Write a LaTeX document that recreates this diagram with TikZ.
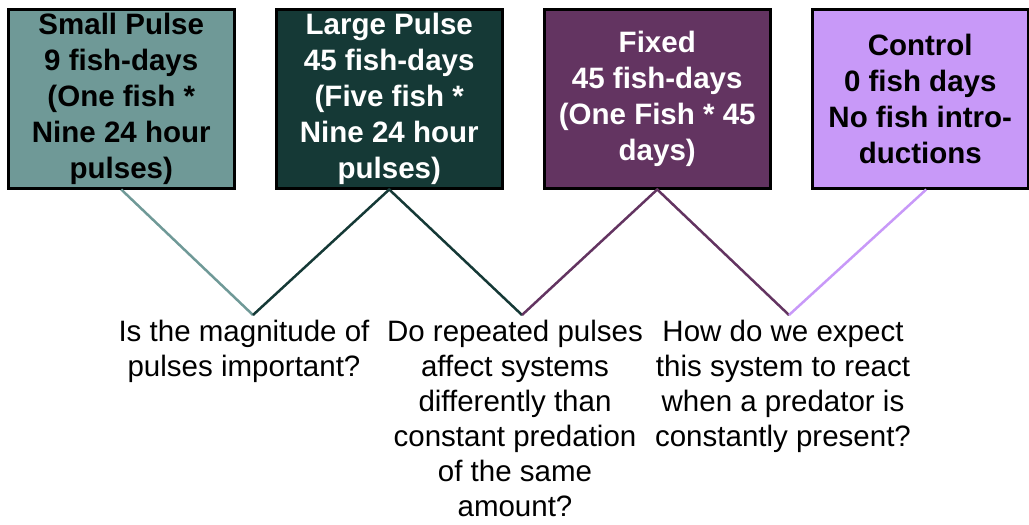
\documentclass[tikz,border=0pt]{standalone}
\usepackage{fontspec}
\setmainfont{Liberation Sans}
\usetikzlibrary{positioning}

\definecolor{smallcol}{HTML}{6F9997}
\definecolor{largecol}{HTML}{153936}
\definecolor{fixedcol}{HTML}{633461}
\definecolor{controlcol}{HTML}{C899F8}

\begin{document}
\begin{tikzpicture}[
    x=1pt, y=-1pt,
    treat/.style={
        draw=black,
        line width=2.5pt,
        align=center,
        minimum width=226pt,
        minimum height=179pt,
        inner sep=0pt,
        font=\bfseries\fontsize{29.5}{36}\selectfont
    },
    question/.style={
        align=center,
        anchor=north,
        inner sep=0pt,
        font=\fontsize{29.5}{35}\selectfont
    },
    link/.style={
        line width=2.5pt
    }
]
\useasboundingbox (0,0) rectangle (1029,525);

% treatment boxes
\node[treat, fill=smallcol, anchor=north west] (small) at (7,8)
    {Small Pulse\\9 fish-days\\(One fish *\\Nine 24 hour\\pulses)};

\node[treat, fill=largecol, text=white, anchor=north west] (large) at (275,8)
    {Large Pulse\\45 fish-days\\(Five fish *\\Nine 24 hour\\pulses)};

\node[treat, fill=fixedcol, text=white, anchor=north west] (fixed) at (543,8)
    {Fixed\\45 fish-days\\(One Fish * 45\\days)};

\node[treat, fill=controlcol, anchor=north west, minimum width=216pt] (control) at (811,8)
    {Control\\0 fish days\\No fish intro-\\ductions};

% meeting points of the lines
\coordinate (v1) at (253,315);
\coordinate (v2) at (522,315);
\coordinate (v3) at (789,315);

% questions
\node[question] (q1) at (244,320)
    {Is the magnitude of\\pulses important?};

\node[question] (q2) at (515,320)
    {Do repeated pulses\\affect systems\\differently than\\constant predation\\of the same\\amount?};

\node[question] (q3) at (783,320)
    {How do we expect\\this system to react\\when a predator is\\constantly present?};

\draw[link, smallcol] (small.south) -- (v1);
\draw[link, largecol] (v1) -- (large.south) -- (v2);
\draw[link, fixedcol] (v2) -- (fixed.south) -- (v3);
\draw[link, controlcol] ([xshift=6pt]control.south) -- (v3);

\end{tikzpicture}
\end{document}
